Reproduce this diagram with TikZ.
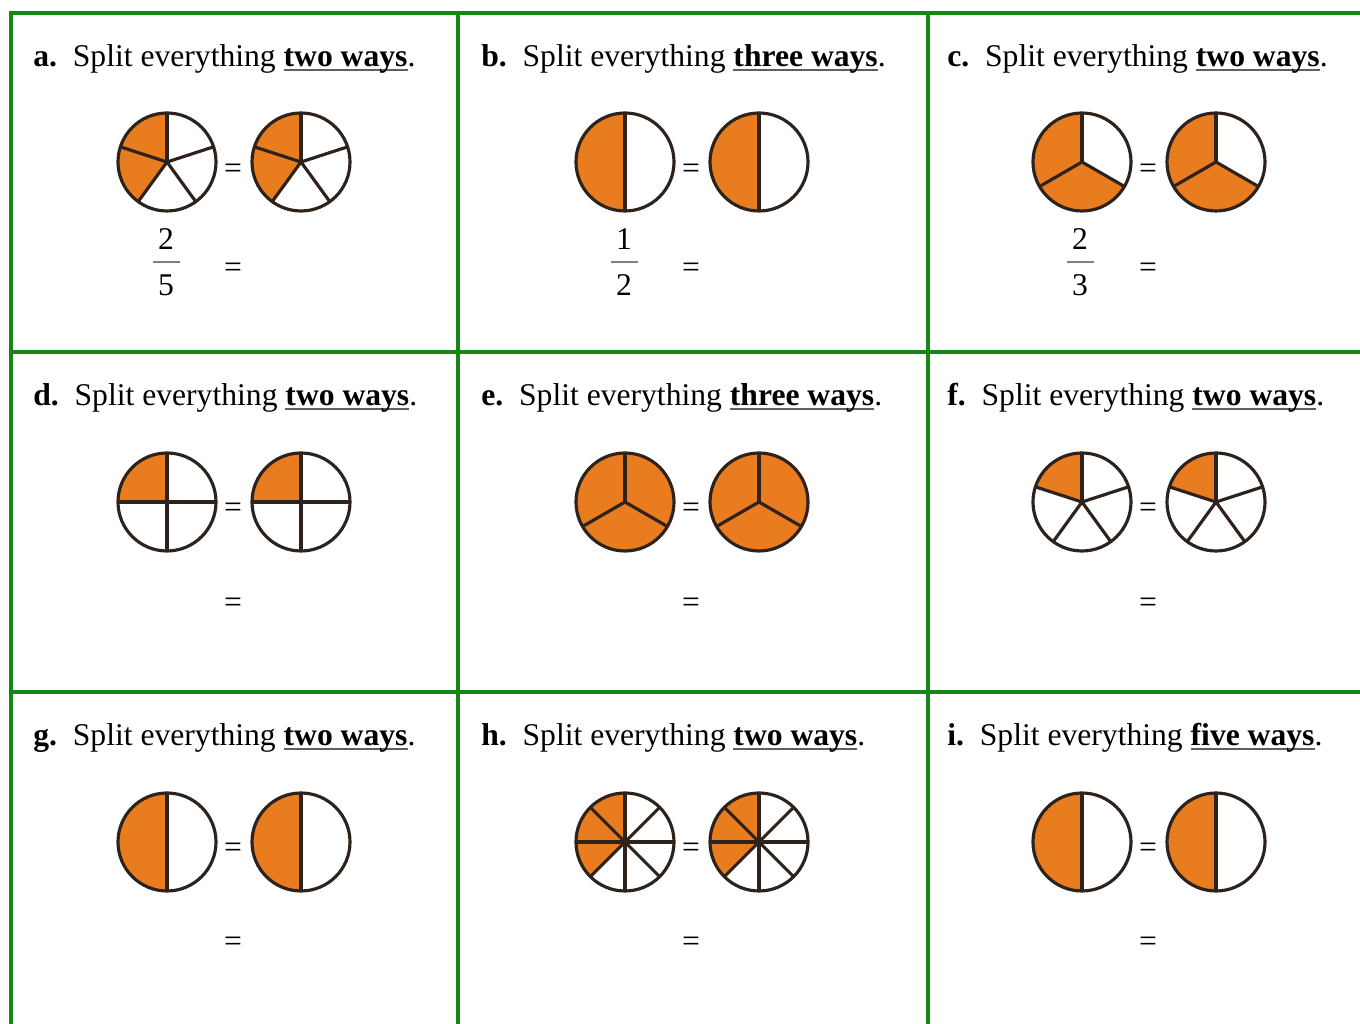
\documentclass[tikz,border=0pt]{standalone}
\usepackage{fontspec}
\setmainfont{Liberation Serif}
\usetikzlibrary{positioning}
\definecolor{gridgreen}{RGB}{22,134,22}
\definecolor{pieorange}{RGB}{232,124,30}
\definecolor{pieline}{RGB}{45,35,28}
\definecolor{ulgray}{RGB}{95,95,95}
\newcommand{\wayline}[1]{\setbox0\hbox{\textbf{#1}}%
  \rlap{\textcolor{ulgray}{\rule[-2.2pt]{\wd0}{1pt}}}\box0}
\newcommand{\fracpie}[3]{%
  \pgfmathsetmacro{\pieang}{360/#2}
  \fill[pieorange] (#1) -- ++(90:49)
    arc[start angle=90, delta angle={#3*\pieang}, radius=49] -- cycle;
  \foreach \i in {1,...,#2} \draw[pieedge] (#1) -- ++({90+\i*\pieang}:49);
  \draw[pieedge] (#1) circle[radius=49];
}
\tikzset{
  %% ---- grid ----
  gridline/.style = {draw=gridgreen, line width=0.08cm},
  %% ---- pies ----
  pieedge/.style  = {draw=pieline, line width=1.8pt},
  %% ---- text ----
  title/.style    = {anchor=base west, inner sep=0pt,
                     font=\fontsize{18}{21}\selectfont},
  eqsign/.style   = {anchor=base, inner sep=0pt,
                     font=\fontsize{18}{21}\selectfont},
  fracbar/.style  = {draw=gray, line width=1.3pt},
}
\begin{document}
\begin{tikzpicture}[x=0.02cm, y=0.02cm]
  \useasboundingbox (0,0) rectangle (1360,1024);

  %% table lines
  \draw[gridline] (9,1011) -- (1360,1011);
  \draw[gridline] (9,672) -- (1360,672);
  \draw[gridline] (9,332) -- (1360,332);
  \draw[gridline] (11,1013) -- (11,0);
  \draw[gridline] (458,1013) -- (458,0);
  \draw[gridline] (928,1013) -- (928,0);

  %% row 1
  \node[title] (ta) at (33,957)
    {\textbf{a.}\hspace{0.5em}Split everything \wayline{two ways}.};
  \fracpie{167,862}{5}{2}
  \node[eqsign] (eqa) at (233,845) {=};
  \fracpie{301,862}{5}{2}
  \node[eqsign] (numa) at (166,774) {2};
  \node[eqsign] (dena) at (166,728) {5};
  \draw[fracbar] (153,762) -- (180,762);
  \node[eqsign] (eqaa) at (233,746) {=};

  \node[title] (tb) at (481,957)
    {\textbf{b.}\hspace{0.5em}Split everything \wayline{three ways}.};
  \fracpie{625,862}{2}{1}
  \node[eqsign] (eqb) at (691,845) {=};
  \fracpie{759,862}{2}{1}
  \node[eqsign] (numb) at (624,774) {1};
  \node[eqsign] (denb) at (624,728) {2};
  \draw[fracbar] (611,762) -- (638,762);
  \node[eqsign] (eqbb) at (691,746) {=};

  \node[title] (tc) at (947,957)
    {\textbf{c.}\hspace{0.5em}Split everything \wayline{two ways}.};
  \fracpie{1082,862}{3}{2}
  \node[eqsign] (eqc) at (1148,845) {=};
  \fracpie{1216,862}{3}{2}
  \node[eqsign] (numc) at (1080,774) {2};
  \node[eqsign] (denc) at (1080,728) {3};
  \draw[fracbar] (1067,762) -- (1094,762);
  \node[eqsign] (eqcc) at (1148,746) {=};

  %% row 2
  \node[title] (td) at (33,618)
    {\textbf{d.}\hspace{0.5em}Split everything \wayline{two ways}.};
  \fracpie{167,522}{4}{1}
  \node[eqsign] (eqd) at (233,506) {=};
  \fracpie{301,522}{4}{1}
  \node[eqsign] (eqdd) at (233,411) {=};

  \node[title] (te) at (481,618)
    {\textbf{e.}\hspace{0.5em}Split everything \wayline{three ways}.};
  \fracpie{625,522}{3}{3}
  \node[eqsign] (eqe) at (691,506) {=};
  \fracpie{759,522}{3}{3}
  \node[eqsign] (eqee) at (691,411) {=};

  \node[title] (tf) at (947,618)
    {\textbf{f.}\hspace{0.5em}Split everything \wayline{two ways}.};
  \fracpie{1082,522}{5}{1}
  \node[eqsign] (eqf) at (1148,506) {=};
  \fracpie{1216,522}{5}{1}
  \node[eqsign] (eqff) at (1148,411) {=};

  %% row 3
  \node[title] (tg) at (33,278)
    {\textbf{g.}\hspace{0.5em}Split everything \wayline{two ways}.};
  \fracpie{167,182}{2}{1}
  \node[eqsign] (eqg) at (233,166) {=};
  \fracpie{301,182}{2}{1}
  \node[eqsign] (eqgg) at (233,72) {=};

  \node[title] (th) at (481,278)
    {\textbf{h.}\hspace{0.5em}Split everything \wayline{two ways}.};
  \fracpie{625,182}{8}{3}
  \node[eqsign] (eqh) at (691,166) {=};
  \fracpie{759,182}{8}{3}
  \node[eqsign] (eqhh) at (691,72) {=};

  \node[title] (ti) at (947,278)
    {\textbf{i.}\hspace{0.5em}Split everything \wayline{five ways}.};
  \fracpie{1082,182}{2}{1}
  \node[eqsign] (eqi) at (1148,166) {=};
  \fracpie{1216,182}{2}{1}
  \node[eqsign] (eqii) at (1148,72) {=};

\end{tikzpicture}
\end{document}
